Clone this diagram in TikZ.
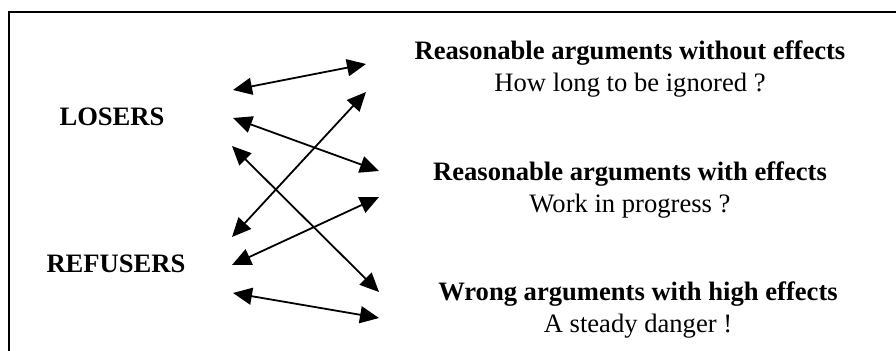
\documentclass[tikz,border=0pt]{standalone}
\usepackage{fontspec}
\setmainfont{Liberation Serif}
\usepackage{tikz}
\usetikzlibrary{arrows.meta,positioning}
\tikzset{
  sidelabel/.style={font=\fontsize{13.3}{16}\selectfont\bfseries,inner sep=0pt},
  argbox/.style={align=center,font=\fontsize{13.3}{16}\selectfont,inner sep=2pt},
  linkarrow/.style={{Triangle[length=9.5pt,width=8.5pt]}-{Triangle[length=9.5pt,width=8.5pt]},line width=0.9pt,draw=black},
  framebox/.style={line width=1pt,draw=black}
}

\begin{document}
\begin{tikzpicture}[x=0.5pt,y=-0.5pt]
\useasboundingbox (0,0) rectangle (896,351);
\clip (0,0) rectangle (896,351);
\draw[framebox] (9,12) rectangle (905,362);
% groups on the left
\node[sidelabel] (losers) at (112,117) {LOSERS};
\node[sidelabel] (refusers) at (116,264) {REFUSERS};
% arguments on the right
\node[argbox] (argA) at (630,69) {\textbf{Reasonable arguments without effects}\\How long to be ignored ?};
\node[argbox] (argB) at (630,190) {\textbf{Reasonable arguments with effects}\\Work in progress ?};
\node[argbox] (argC) at (638,310) {\textbf{Wrong arguments with high effects}\\A steady danger !};
% arrow ends
\coordinate (lo1) at (233,90);
\coordinate (lo2) at (233,118);
\coordinate (lo3) at (232,146);
\coordinate (re1) at (232,237);
\coordinate (re2) at (232,265);
\coordinate (re3) at (233,293);
\coordinate (ra1) at (366,64);
\coordinate (ra2) at (366,92);
\coordinate (rb1) at (379,171);
\coordinate (rb2) at (379,197);
\coordinate (wc1) at (379,292);
\coordinate (wc2) at (379,318);
\draw[linkarrow] (lo1)--(ra1);
\draw[linkarrow] (lo2)--(rb1);
\draw[linkarrow] (lo3)--(wc1);
\draw[linkarrow] (re1)--(ra2);
\draw[linkarrow] (re2)--(rb2);
\draw[linkarrow] (re3)--(wc2);
\end{tikzpicture}
\end{document}
